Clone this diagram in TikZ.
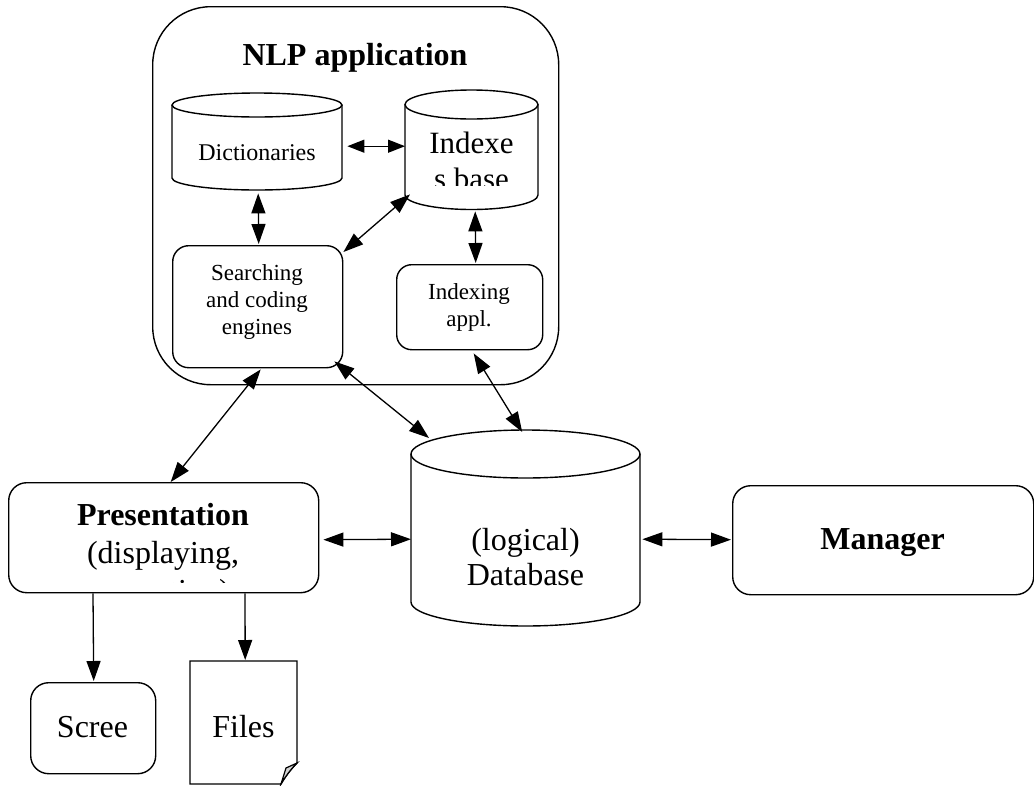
\documentclass[tikz,border=0pt]{standalone}
\usepackage{fontspec}
\setmainfont{Liberation Serif}
\usetikzlibrary{arrows.meta,calc}

\tikzset{
  outline/.style={draw, line width=1.4pt},
  rbox/.style={outline, rounded corners=#1, inner sep=0pt, anchor=north west},
  rbox/.default=18pt,
  frame/.style={inner sep=0pt, anchor=north west},
  big/.style={font=\fontsize{32}{38}\selectfont, align=center},
  bigbold/.style={font=\bfseries\fontsize{32}{38}\selectfont, align=center},
  small/.style={font=\fontsize{23}{27}\selectfont, align=center},
  >={Triangle[length=20pt,width=14pt]},
  dbl/.style={line width=1.3pt, <->},
  dblshort/.style={line width=1.3pt, {Triangle[length=17pt,width=13pt]}-{Triangle[length=17pt,width=13pt]}},
  one/.style={line width=1.3pt, ->},
}

% cylinder: x-left, x-right, top ellipse centre y, bottom ellipse centre y, y radius
\newcommand\cylbody[5]{%
  \draw[outline] (#1,#3) -- (#1,#4)
    arc[start angle=180, end angle=0, x radius={(#2-#1)/2}, y radius=#5] -- (#2,#3);
  \draw[outline] ({(#1+#2)/2},#3) ellipse[x radius={(#2-#1)/2}, y radius=#5];
}

\begin{document}
\begin{tikzpicture}[x=1pt, y=-1pt]
\useasboundingbox (0,0) rectangle (1034,785);

% NLP application container
\node[rbox=58pt, minimum width=406pt, minimum height=378pt] (nlp) at (152,6) {};
\node[bigbold, anchor=base] (nlptitle) at (355,65) {NLP application};

% Dictionaries
\cylbody{172}{342}{105}{178}{12}
\node[frame, minimum width=170pt, minimum height=97pt] (dict) at (172,93) {};
\node[small, font=\fontsize{24}{28}\selectfont, anchor=base] (dicttext) at (257,160) {Dictionaries};

% Indexes base (text clipped by the drum body)
\cylbody{405}{538}{104.5}{195}{14.5}
\node[frame, minimum width=133pt, minimum height=119.5pt] (idx) at (405,90) {};
\begin{scope}
  \clip (405,119) rectangle (538,185);
  \node[font=\fontsize{31}{36}\selectfont, align=center, anchor=north] (idxtext) at (471.5,128) {Indexe\\s base};
\end{scope}

% Searching and coding engines
\node[rbox=16pt, minimum width=170pt, minimum height=122pt] (search) at (172,245) {};
\node[small] (searchtext) at (257,302) {Searching\\and coding\\engines};

% Indexing appl.
\node[rbox=15pt, minimum width=146pt, minimum height=85pt] (indexing) at (396,264) {};
\node[small] (indexingtext) at (469,307) {Indexing\\appl.};

% (logical) Database
\cylbody{411}{640}{454}{602}{24}
\node[frame, minimum width=229pt, minimum height=196pt] (db) at (411,430) {};
\node[big, font=\fontsize{32}{35}\selectfont] (dbtext) at (525.5,557) {(logical)\\Database};

% Presentation (last line clipped by the box)
\node[rbox=18pt, minimum width=310pt, minimum height=110pt] (pres) at (8,482) {};
\begin{scope}
  \clip (8,482) rectangle (318,582);
  \node[big, anchor=north] (prestext) at (163,500) {\textbf{Presentation}\\(displaying,\\exporting)};
\end{scope}

% Manager
\node[rbox=18pt, minimum width=301pt, minimum height=109pt] (mgr) at (732,485) {};
\node[bigbold] (mgrtext) at (882.5,542.5) {Manager};

% Screen
\node[rbox=18pt, minimum width=125pt, minimum height=91pt] (screen) at (30,682) {};
\node[big] (screentext) at (92.5,727) {Scree};

% Files (sheet with a curled corner)
\draw[outline] (190,661) -- (297,661) -- (297,763)
  .. controls (291,769) and (285,777) .. (281,784) -- (190,784) -- cycle;
\draw[line width=1.2pt, fill=gray!35] (297,763) -- (286,768) -- (281,784)
  .. controls (285,777) and (291,769) .. cycle;
\node[frame, minimum width=107pt, minimum height=123pt] (files) at (190,661) {};
\node[big] (filestext) at (243.5,727) {Files};

% connectors
\draw[dblshort] ($(dict.east)+(5,4.5)$) -- ($(idx.west)+(0,-3.75)$);
\draw[dbl] ($(dict.south)+(1,3)$) -- ($(search.north)+(1,-1)$);
\draw[dbl] ($(idx.south west)+(5,-15.5)$) -- ($(search.north east)+(0,7)$);
\draw[dbl] ($(idx.south)+(3.5,1.5)$) -- ($(indexing.north)+(6,-1)$);
\draw[dbl] ($(search.south)+(3,1)$) -- ($(pres.north)+(7,0)$);
\draw[dbl] ($(search.south east)+(-9,-7)$) -- ($(db.north west)+(18,8)$);
\draw[dbl] ($(indexing.south)+(4,3)$) -- ($(db.north)+(-3.5,2)$);
\draw[dbl] ($(pres.east)+(4,2)$) -- ($(db.west)+(0,11)$);
\draw[dbl] ($(db.east)+(2,11)$) -- ($(mgr.west)+(-1,-0.5)$);
\draw[one] ($(pres.south west)+(85,0)$) -- ($(screen.north)+(0.5,-1)$);
\draw[one] ($(pres.south west)+(237,0)$) -- ($(files.north)+(1.5,-1)$);
\end{tikzpicture}
\end{document}
